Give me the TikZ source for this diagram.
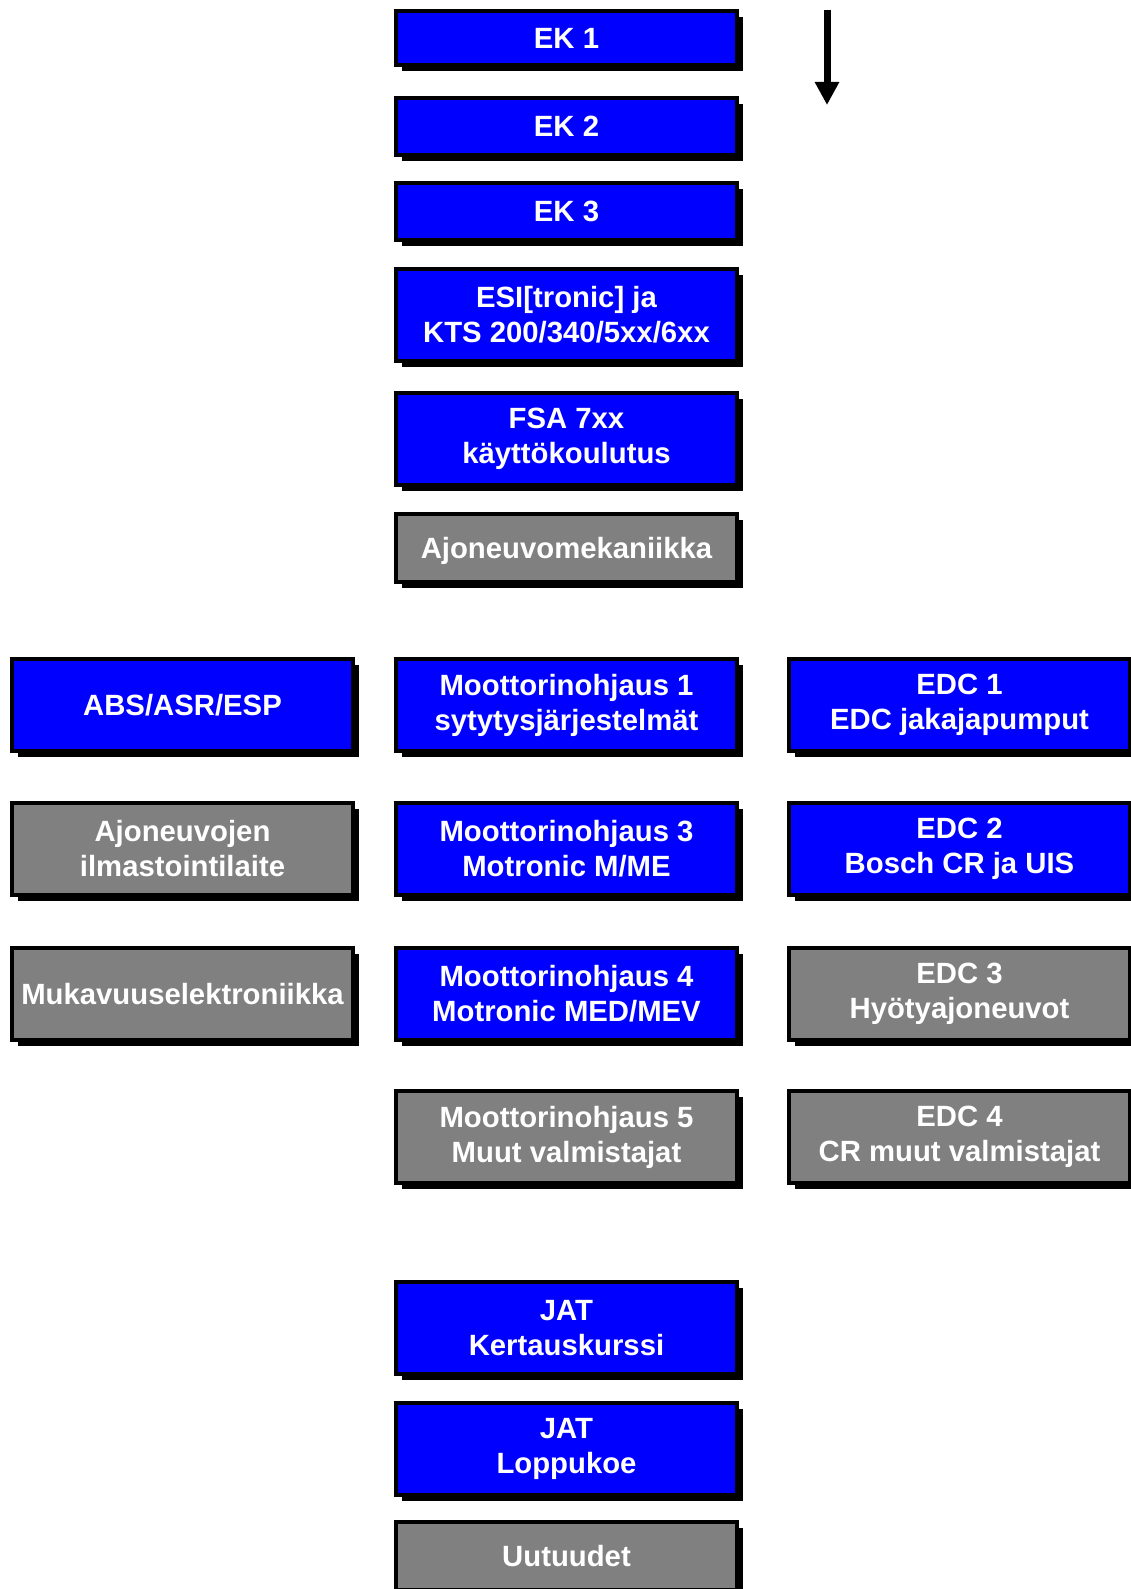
\documentclass[tikz,border=0pt]{standalone}
\usepackage{fontspec}
\setmainfont{Liberation Sans}
\usetikzlibrary{positioning, arrows.meta, shadows}
\definecolor{courseblue}{HTML}{0000FF}
\definecolor{coursegray}{HTML}{808080}

\begin{document}
\begin{tikzpicture}[x=1pt, y=-1pt, >=Stealth,
    coursebox/.style={draw=black, line width=4pt, rectangle, inner sep=0pt,
      minimum width=341pt, minimum height=57pt, align=center,
      text=white, font=\fontsize{29.3}{35}\selectfont\bfseries,
      drop shadow={shadow xshift=6pt, shadow yshift=-6pt, fill=black, opacity=1}},
    bluebox/.style={coursebox, fill=courseblue},
    graybox/.style={coursebox, fill=coursegray},
    tall/.style={minimum height=92pt},
    mid/.style={minimum height=68pt, text depth=-2pt}]
  \useasboundingbox (0,0) rectangle (1131,1589);

  % Basic courses
  \node[bluebox, minimum height=54pt] (ek1) at (566.5,38) {EK 1};
  \node[bluebox, below=29pt of ek1] (ek2) {EK 2};
  \node[bluebox, below=24pt of ek2] (ek3) {EK 3};
  \node[bluebox, tall, below=25pt of ek3] (esi) {ESI[tronic] ja\\KTS 200/340/5xx/6xx};
  \node[bluebox, tall, below=28pt of esi] (fsa) {FSA 7xx\\käyttökoulutus};
  \node[graybox, mid, below=25pt of fsa] (mek) {Ajoneuvomekaniikka};

  % Engine management
  \node[bluebox, tall, below=73pt of mek] (moh1) {Moottorinohjaus 1\\sytytysjärjestelmät};
  \node[bluebox, tall, below=48pt of moh1] (moh3) {Moottorinohjaus 3\\Motronic M/ME};
  \node[bluebox, tall, below=49pt of moh3] (moh4) {Moottorinohjaus 4\\Motronic MED/MEV};
  \node[graybox, tall, below=47pt of moh4] (moh5) {Moottorinohjaus 5\\Muut valmistajat};

  % Left column
  \node[bluebox, tall, left=39pt of moh1] (abs) {ABS/ASR/ESP};
  \node[graybox, tall, left=39pt of moh3] (ilma) {Ajoneuvojen\\ilmastointilaite};
  \node[graybox, tall, left=39pt of moh4] (muka) {Mukavuuselektroniikka};

  % Diesel column
  \node[bluebox, tall, right=48pt of moh1] (edc1) {EDC 1\\EDC jakajapumput};
  \node[bluebox, tall, right=48pt of moh3] (edc2) {EDC 2\\Bosch CR ja UIS};
  \node[graybox, tall, right=48pt of moh4] (edc3) {EDC 3\\Hyötyajoneuvot};
  \node[graybox, tall, right=48pt of moh5] (edc4) {EDC 4\\CR muut valmistajat};

  % Final courses
  \node[bluebox, tall, below=95pt of moh5] (jat1) {JAT\\Kertauskurssi};
  \node[bluebox, tall, below=25pt of jat1] (jat2) {JAT\\Loppukoe};
  \node[graybox, mid, below=23pt of jat2] (uut) {Uutuudet};

  % Order arrow
  \coordinate (flowtop) at (827,10);
  \coordinate (flowend) at (827,105);
  \draw[line width=7pt, -{Triangle[width=23pt, length=23pt]}] (flowtop) -- (flowend);
\end{tikzpicture}
\end{document}
